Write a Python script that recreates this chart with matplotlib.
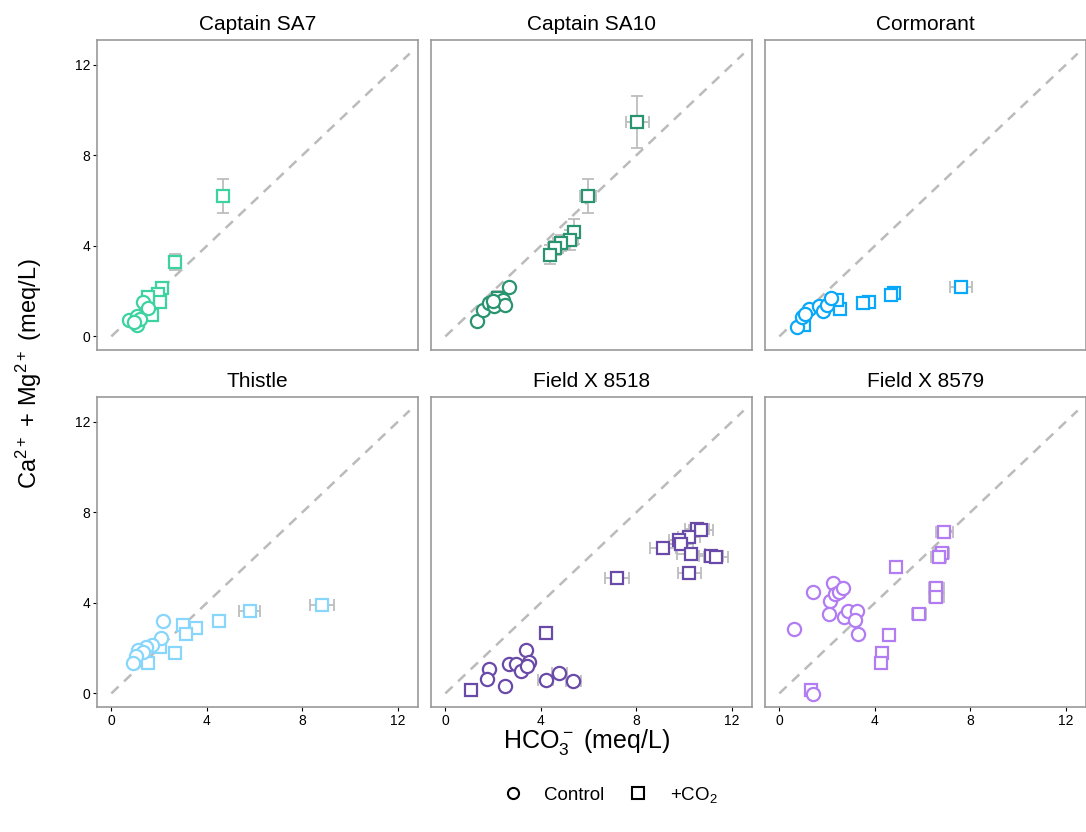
import matplotlib
matplotlib.use("Agg")
import matplotlib.pyplot as plt
from matplotlib.lines import Line2D

plt.rcParams['font.family'] = ['Liberation Sans', 'DejaVu Sans']
plt.rcParams['mathtext.default'] = 'regular'

# site names and colours
sites = ['Captain SA7', 'Captain SA10', 'Cormorant', 'Thistle', 'Field X 8518', 'Field X 8579']
colors = ['#3dd3a0', '#2a9470', '#0aa8f8', '#88d6fb', '#6a4aa8', '#b27cf2']

# control samples: HCO3 (x) and Ca+Mg (y), meq/L
ctrl_x = [
    [0.72, 1.07, 1.07, 1.20, 1.34, 1.55, 0.95],
    [1.31, 1.56, 1.85, 2.06, 2.41, 2.52, 2.68, 2.00],
    [0.72, 0.93, 1.23, 1.65, 1.83, 1.99, 2.16, 1.06],
    [2.17, 2.10, 1.71, 1.44, 1.13, 1.34, 1.04, 0.90],
    [1.81, 1.74, 2.52, 2.66, 2.96, 3.17, 3.37, 3.49, 3.44, 4.20, 4.78, 5.37],
    [0.61, 1.40, 2.23, 2.13, 2.34, 2.52, 2.68, 2.07, 2.73, 2.86, 3.27, 3.17, 3.31, 1.41],
]
ctrl_y = [
    [0.71, 0.90, 0.49, 0.75, 1.51, 1.25, 0.65],
    [0.68, 1.16, 1.48, 1.34, 1.60, 1.38, 2.19, 1.55],
    [0.43, 0.87, 1.22, 1.34, 1.12, 1.41, 1.71, 1.00],
    [3.21, 2.46, 2.16, 2.03, 1.91, 1.84, 1.66, 1.35],
    [1.08, 0.64, 0.34, 1.30, 1.28, 0.98, 1.91, 1.39, 1.21, 0.58, 0.90, 0.53],
    [2.84, 4.47, 4.87, 4.10, 4.39, 4.47, 4.65, 3.52, 3.37, 3.66, 3.66, 3.24, 2.61, -0.01],
]
ctrl_xerr = [
    [0] * 7,
    [0] * 8,
    [0] * 8,
    [0] * 8,
    [0, 0, 0, 0, 0, 0, 0, 0, 0, 0.3, 0.3, 0.3],
    [0] * 14,
]

# +CO2 samples
co2_x = [
    [4.66, 2.67, 2.12, 1.96, 2.03, 1.55, 1.71],
    [8.05, 5.98, 5.39, 5.24, 4.83, 4.61, 4.37, 2.20],
    [7.62, 4.80, 4.66, 3.75, 3.49, 2.53, 2.41, 1.02],
    [8.82, 5.80, 4.51, 3.56, 2.99, 3.15, 2.67, 2.05, 1.54],
    [10.55, 10.70, 10.22, 9.78, 9.89, 9.13, 10.30, 11.12, 11.33, 10.23, 7.18, 4.20, 1.07],
    [6.92, 6.80, 6.67, 4.90, 6.58, 6.58, 5.84, 4.58, 4.29, 4.24, 1.34],
]
co2_y = [
    [6.19, 3.28, 2.13, 1.88, 1.53, 1.75, 0.96],
    [9.47, 6.19, 4.63, 4.25, 4.12, 3.90, 3.62, 1.69],
    [2.20, 1.93, 1.85, 1.53, 1.46, 1.19, 1.63, 0.49],
    [3.90, 3.64, 3.21, 2.90, 3.04, 2.62, 1.79, 2.03, 1.35],
    [7.28, 7.24, 6.90, 6.77, 6.61, 6.44, 6.16, 6.06, 6.01, 5.34, 5.08, 2.68, 0.13],
    [7.15, 6.21, 6.03, 5.60, 4.65, 4.25, 3.52, 2.56, 1.79, 1.36, 0.13],
]
co2_xerr = [
    [0, 0, 0, 0, 0, 0, 0],
    [0.47, 0.35, 0.25, 0.30, 0.30, 0.30, 0.20, 0.30],
    [0.45, 0.20, 0.20, 0, 0, 0, 0, 0],
    [0.51, 0.45, 0.20, 0, 0, 0, 0, 0, 0],
    [0.50, 0.50, 0.45, 0.40, 0.50, 0.55, 0.60, 0.50, 0.50, 0.50, 0.50, 0, 0],
    [0.35, 0.30, 0.30, 0.20, 0.30, 0.30, 0.30, 0, 0, 0, 0],
]
co2_yerr = [
    [0.75, 0.36, 0, 0, 0, 0, 0],
    [1.15, 0.75, 0.55, 0.45, 0.35, 0.30, 0.40, 0.30],
    [0] * 8,
    [0] * 9,
    [0] * 13,
    [0] * 11,
]

ticks = [0, 4, 8, 12]
err_col = '#bdbdbd'
spine_col = '#999999'

fig = plt.figure(figsize=(10.86, 8.32), dpi=100)

lefts = [97 / 1086, 431 / 1086, 765 / 1086]
bottoms = [1 - 350 / 832, 1 - 707 / 832]
w = 321 / 1086
h = 310 / 832


def draw_err(ax, x, y, xe, ye):
    # only points that have a spread get bars
    for xi, yi, xei, yei in zip(x, y, xe, ye):
        if xei == 0 and yei == 0:
            continue
        ax.errorbar(xi, yi,
                    xerr=xei if xei > 0 else None,
                    yerr=yei if yei > 0 else None,
                    fmt='none', ecolor=err_col, elinewidth=1.3, capsize=4, capthick=1.3, zorder=2)


for i, name in enumerate(sites):
    r, c = divmod(i, 3)
    ax = fig.add_axes([lefts[c], bottoms[r], w, h])
    ax.plot([0, 12.5], [0, 12.5], ls=(0, (4, 3)), color='#bbbbbb', lw=1.8, zorder=1)

    draw_err(ax, ctrl_x[i], ctrl_y[i], ctrl_xerr[i], [0] * len(ctrl_x[i]))
    draw_err(ax, co2_x[i], co2_y[i], co2_xerr[i], co2_yerr[i])

    ax.plot(co2_x[i], co2_y[i], ls='none', marker='s', ms=9, mfc='white',
            mec=colors[i], mew=1.6, zorder=3)
    ax.plot(ctrl_x[i], ctrl_y[i], ls='none', marker='o', ms=9.5, mfc='white',
            mec=colors[i], mew=1.6, zorder=3)

    ax.set_xlim(-0.6, 12.85)
    ax.set_ylim(-0.6, 13.1)
    ax.set_xticks(ticks)
    ax.set_yticks(ticks)
    ax.tick_params(direction='out', length=3, width=0.8, pad=2, labelsize=10, color='black')
    if r == 0:
        ax.tick_params(axis='x', bottom=False, labelbottom=False)
    if c > 0:
        ax.tick_params(axis='y', left=False, labelleft=False)
    for s in ax.spines.values():
        s.set_color(spine_col)
        s.set_linewidth(1.2)
    ax.set_title(name, fontsize=15, pad=7)

fig.text(0.54, 1 - 742 / 832, r'HCO$_3^-$ (meq/L)', ha='center', va='center', fontsize=18)
fig.text(0.027, 1 - 374 / 832, r'Ca$^{2+}$ + Mg$^{2+}$ (meq/L)', ha='center', va='center',
         rotation=90, fontsize=17)

handles = [
    Line2D([], [], ls='none', marker='o', ms=8, mfc='white', mec='black', mew=1.5, label='Control'),
    Line2D([], [], ls='none', marker='s', ms=8, mfc='white', mec='black', mew=1.5, label='+CO$_2$'),
]
fig.legend(handles=handles, loc='center', bbox_to_anchor=(0.558, 1 - 795 / 832), ncol=2,
           frameon=False, fontsize=13.5, handletextpad=0.7, columnspacing=0.8)

fig.savefig('out.png', dpi=100)
